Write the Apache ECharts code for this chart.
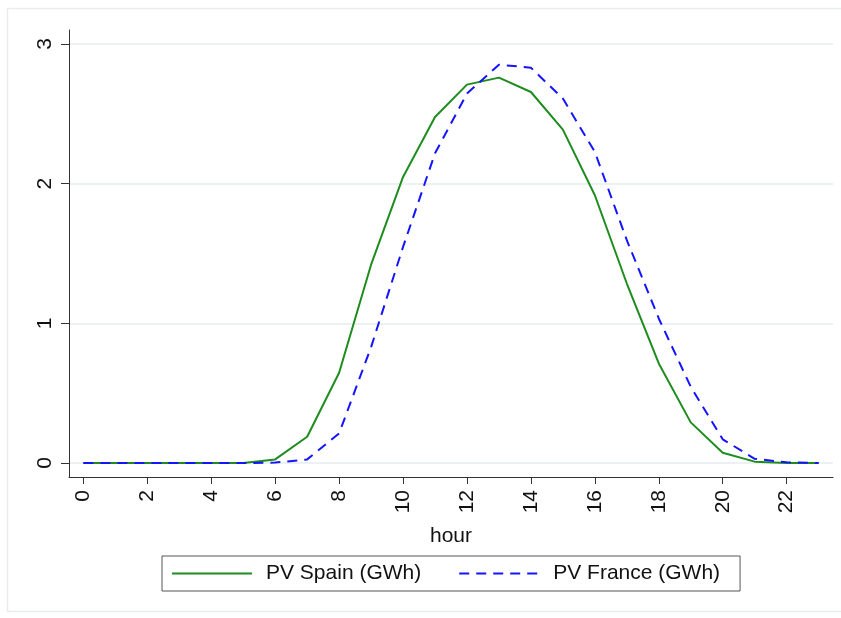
<!DOCTYPE html>
<html>
<head>
<meta charset="utf-8">
<script src="https://cdn.jsdelivr.net/npm/echarts@6/dist/echarts.min.js"></script>
<style>
    html, body { margin: 0; padding: 0; background: #fff; }
    #chart { width: 841px; height: 618px; }
</style>
</head>
<body>
<div id="chart"></div>
<script>
const hours = [0, 1, 2, 3, 4, 5, 6, 7, 8, 9, 10, 11, 12, 13, 14, 15, 16, 17, 18, 19, 20, 21, 22, 23]
const pvSpain = [0, 0, 0, 0, 0, 0, 0.026, 0.188, 0.646, 1.42, 2.048, 2.477, 2.709, 2.759, 2.656, 2.387, 1.917, 1.285, 0.713, 0.291, 0.074, 0.01, 0, 0]
const pvFrance = [0, 0, 0, 0, 0, 0, 0.003, 0.026, 0.212, 0.83, 1.547, 2.217, 2.645, 2.852, 2.83, 2.609, 2.227, 1.595, 1.035, 0.546, 0.17, 0.03, 0.005, 0]
const xTicks = [0, 2, 4, 6, 8, 10, 12, 14, 16, 18, 20, 22]
const yTicks = [0, 1, 2, 3]

const font = 'Liberation Sans, Arial, sans-serif'
const chart = echarts.init(document.getElementById('chart'))

chart.setOption({
    animation: false,
    backgroundColor: '#fff',
    graphic: [{
        type: 'rect',
        shape: { x: 7.5, y: 8.5, width: 860, height: 603 },
        style: { fill: 'none', stroke: '#e6eef0', lineWidth: 1.5 },
        silent: true,
    }],
    legend: {
        left: 162,
        top: 556,
        padding: [7, 20, 7, 9],
        borderColor: '#555',
        borderWidth: 1,
        itemWidth: 80,
        itemHeight: 14,
        itemGap: 37,
        itemStyle: { opacity: 0 },
        textStyle: {
            fontFamily: font,
            fontSize: 21,
            color: '#111',
            padding: [0, 0, 0, 9],
        },
        data: ['PV Spain (GWh)', 'PV France (GWh)'],
    },
    grid: {
        left: 69,
        right: 8,
        top: 30,
        bottom: 141,
        containLabel: false,
    },
    xAxis: {
        type: 'value',
        min: -0.45,
        max: 23.45,
        name: 'hour',
        nameLocation: 'middle',
        nameGap: 49,
        nameTextStyle: { fontFamily: font, fontSize: 21, color: '#111' },
        axisLine: { onZero: false, lineStyle: { color: '#333', width: 1 } },
        axisTick: { show: true, length: 7, customValues: xTicks, lineStyle: { color: '#333' } },
        axisLabel: {
            customValues: xTicks,
            rotate: 90,
            margin: 13,
            fontFamily: font,
            fontSize: 21,
            color: '#111',
        },
        splitLine: { show: false },
    },
    yAxis: {
        type: 'value',
        min: -0.1,
        max: 3.1,
        axisLine: { show: true, onZero: false, lineStyle: { color: '#333', width: 1 } },
        axisTick: { show: true, length: 8, customValues: yTicks, lineStyle: { color: '#333' } },
        axisLabel: {
            customValues: yTicks,
            rotate: 90,
            margin: 13,
            fontFamily: font,
            fontSize: 21,
            color: '#111',
        },
        splitLine: { show: true, lineStyle: { color: '#e6eef0', width: 1.5 } },
    },
    series: [
        {
            name: 'PV Spain (GWh)',
            type: 'line',
            data: hours.map((h, i) => [h, pvSpain[i]]),
            symbol: 'none',
            lineStyle: { color: '#1e8c1e', width: 2 },
            itemStyle: { color: '#1e8c1e' },
        },
        {
            name: 'PV France (GWh)',
            type: 'line',
            data: hours.map((h, i) => [h, pvFrance[i]]),
            symbol: 'none',
            lineStyle: { color: '#1414ff', width: 2, type: [10, 7] },
            itemStyle: { color: '#1414ff' },
        },
    ],
})
</script>
</body>
</html>
